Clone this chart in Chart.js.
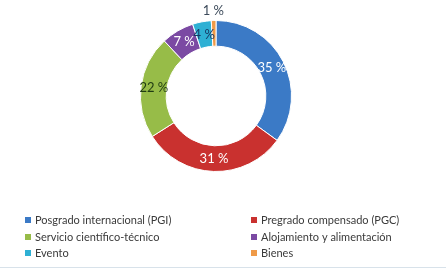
<!DOCTYPE html>
<html>
<head>
<meta charset="utf-8">
<script src="https://cdn.jsdelivr.net/npm/chart.js@4"></script>
<style>
  html, body { margin: 0; padding: 0; background: #ffffff; }
  #wrap { position: relative; width: 446px; height: 271px; }
  #linea { position: absolute; left: 0; top: 267px; width: 446px; height: 1px; background: #d8e2ea; }
</style>
</head>
<body>
<div id="wrap">
  <canvas id="grafico" width="446" height="271"></canvas>
  <div id="linea"></div>
</div>
<script>
// datos del grafico
const categorias = ['Posgrado internacional (PGI)', 'Pregrado compensado (PGC)', 'Servicio científico-técnico',
                    'Alojamiento y alimentación', 'Evento', 'Bienes'];
const valores = [35, 31, 22, 7, 4, 1];
const colores = ['#3b7ac6', '#c9312f', '#97bc48', '#7b4aa3', '#2eb0d4', '#ef9a48'];
const coloresTexto = ['#ffffff', '#ffffff', '#1f3b12', '#ffffff', '#173a66', '#3c4a5a'];

// etiquetas de porcentaje sobre cada porcion
const etiquetas = {
  id: 'etiquetas',
  afterDatasetsDraw(chart) {
    const c = chart.ctx;
    const meta = chart.getDatasetMeta(0);
    c.save();
    c.font = '13px Lato';
    c.textAlign = 'center';
    c.textBaseline = 'middle';
    meta.data.forEach((arc, i) => {
      let pos;
      if (valores[i] < 3) {
        const ang = (arc.startAngle + arc.endAngle) / 2;
        const r = arc.outerRadius + 10;
        pos = { x: arc.x + Math.cos(ang) * r, y: arc.y + Math.sin(ang) * r };
      } else {
        pos = arc.tooltipPosition();
      }
      c.fillStyle = coloresTexto[i];
      c.fillText(valores[i] + ' %', pos.x, pos.y);
    });
    c.restore();
  }
};

// leyenda en dos columnas
const leyenda = {
  id: 'leyenda',
  afterDraw(chart) {
    const c = chart.ctx;
    c.save();
    c.font = '11px Lato';
    c.textBaseline = 'middle';
    const xs = [25, 251];
    const ys = [220, 237, 253];
    categorias.forEach((nombre, i) => {
      const x = xs[i % 2];
      const y = ys[Math.floor(i / 2)];
      c.fillStyle = colores[i];
      c.fillRect(x, y - 3, 6, 6);
      c.fillStyle = '#3a3a3a';
      c.fillText(nombre, x + 10, y);
    });
    c.restore();
  }
};

const ctx = document.getElementById('grafico').getContext('2d');
window.myChart = new Chart(ctx, {
  type: 'doughnut',
  data: {
    labels: categorias,
    datasets: [{
      data: valores,
      backgroundColor: colores,
      borderColor: '#ffffff',
      borderWidth: 1
    }]
  },
  options: {
    responsive: false,
    animation: false,
    cutout: '66%',
    layout: { padding: { top: 20, bottom: 99, left: 0, right: 14 } },
    plugins: {
      legend: { display: false },
      tooltip: { enabled: false }
    }
  },
  plugins: [etiquetas, leyenda]
});
</script>
</body>
</html>
